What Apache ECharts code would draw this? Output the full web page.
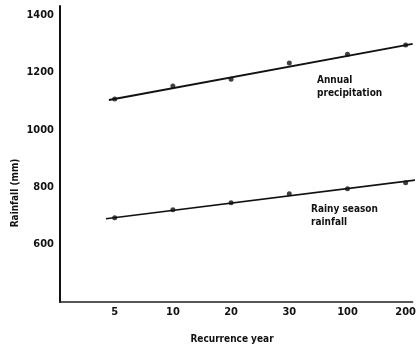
<!DOCTYPE html>
<html><head><meta charset="utf-8">
<script src="https://cdn.jsdelivr.net/npm/echarts@6/dist/echarts.min.js"></script>
<style>html,body{margin:0;padding:0;background:#fff}#c{width:419px;height:350px}</style>
</head><body><div id="c"></div>
<script>
// recurrence-year categories (positions 1..6 on the x axis)
var categories = ['5', '10', '20', '30', '100', '200'];
var positions = [1, 2, 3, 4, 5, 6];
// observed points (mm)
var annualValues = [1108, 1153, 1177, 1233, 1264, 1296];
var rainyValues = [694, 722, 746, 777, 795, 816];
// fitted lines: [position, value] endpoints
var annualLineX = [0.9, 6.12];
var annualLineY = [1104, 1300];
var rainyLineX = [0.85, 6.2];
var rainyLineY = [690, 826];
var yTicks = [600, 800, 1000, 1200, 1400];

var font = '"Liberation Sans Narrow","DejaVu Sans Condensed",Arial,sans-serif';
function pts(xs, ys) { return xs.map(function (x, i) { return [x, ys[i]]; }); }

var chart = echarts.init(document.getElementById('c'));
chart.setOption({
  animation: false,
  grid: { left: 60, right: 4, top: 6, bottom: 48 },
  xAxis: {
    type: 'value', min: 0.06, max: 6.12,
    axisLine: { show: true, lineStyle: { color: '#222', width: 1.5 } },
    axisTick: { show: false },
    splitLine: { show: false },
    axisLabel: {
      customValues: positions,
      formatter: function (v) { return categories[Math.round(v) - 1] || ''; },
      color: '#111', fontSize: 11, fontWeight: 'bold', fontFamily: font, margin: 5
    }
  },
  yAxis: {
    type: 'value', min: 400, max: 1432,
    axisLine: { show: true, lineStyle: { color: '#111', width: 2 } },
    axisTick: { show: false },
    splitLine: { show: false },
    axisLabel: {
      customValues: yTicks,
      formatter: function (v) { return String(v); },
      color: '#111', fontSize: 11, fontWeight: 'bold', fontFamily: font, margin: 6
    }
  },
  series: [
    { type: 'line', data: pts(annualLineX, annualLineY), symbol: 'none',
      lineStyle: { color: '#111', width: 2 } },
    { type: 'scatter', data: pts(positions, annualValues), symbolSize: 5,
      itemStyle: { color: '#111' } },
    { type: 'line', data: pts(rainyLineX, rainyLineY), symbol: 'none',
      lineStyle: { color: '#111', width: 1.6 } },
    { type: 'scatter', data: pts(positions, rainyValues), symbolSize: 5,
      itemStyle: { color: '#111' } }
  ],
  graphic: [
    { type: 'text', left: 317, top: 74, style: { text: 'Annual\nprecipitation', fill: '#111', font: 'bold 10px ' + font, lineHeight: 13 } },
    { type: 'text', left: 311, top: 203, style: { text: 'Rainy season\nrainfall', fill: '#111', font: 'bold 10px ' + font, lineHeight: 13 } },
    { type: 'text', x: 15, y: 193, rotation: Math.PI / 2, style: { text: 'Rainfall (mm)', fill: '#111', font: 'bold 10px ' + font, align: 'center', verticalAlign: 'middle' } },
    { type: 'text', x: 232, y: 339, style: { text: 'Recurrence year', fill: '#111', font: 'bold 10px ' + font, align: 'center', verticalAlign: 'middle' } }
  ]
});
</script></body></html>
